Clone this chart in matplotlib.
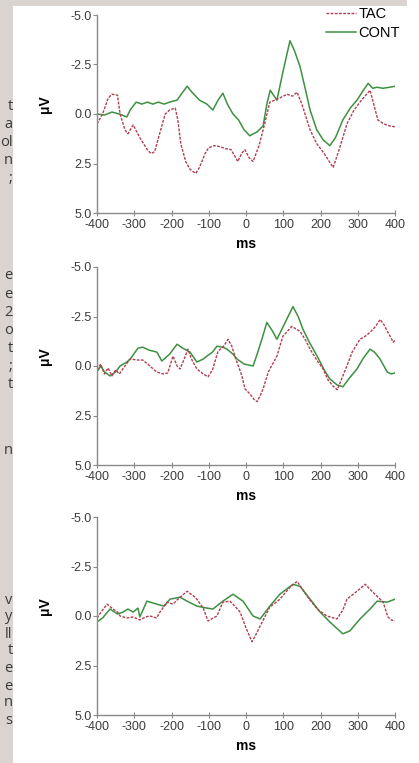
import matplotlib
matplotlib.use("Agg")
import matplotlib.pyplot as plt
from matplotlib.patches import Rectangle
from matplotlib.lines import Line2D

plt.rcParams['axes.unicode_minus'] = False

# ---- data (ms, uV) ----
p1_tac_t = [-400, -385, -370, -360, -345, -338, -325, -317, -303, -285, -265, -255, -245, -232, -217,
            -205, -190, -183, -175, -162, -150, -135, -125, -110, -100, -85, -70, -55, -40, -22, -12,
            -3, 8, 19, 35, 46, 64, 90, 110, 125, 137, 150, 172, 190, 210, 234, 250, 271, 290, 310,
            333, 354, 370, 385, 400]
p1_tac_v = [0.5, 0.0, -0.8, -1.0, -0.95, 0.0, 0.8, 1.0, 0.55, 1.2, 1.8, 2.0, 1.9, 1.0, 0.0,
            -0.2, -0.3, 0.3, 1.5, 2.4, 2.8, 3.0, 2.7, 2.0, 1.7, 1.6, 1.65, 1.75, 1.8, 2.4, 2.0,
            1.8, 2.2, 2.4, 1.6, 0.8, -0.6, -0.8, -1.0, -0.9, -1.1, -0.5, 0.8, 1.5, 2.0, 2.7, 1.8,
            0.5, -0.2, -0.7, -1.2, 0.3, 0.5, 0.6, 0.65]
p1_cont_t = [-400, -380, -360, -340, -320, -311, -295, -280, -265, -250, -235, -220, -205, -185, -170,
             -158, -145, -125, -105, -89, -75, -62, -50, -35, -20, -5, 10, 30, 46, 56, 65, 83, 100,
             118, 130, 145, 160, 172, 190, 207, 225, 240, 260, 280, 298, 315, 328, 340, 352, 368,
             385, 400]
p1_cont_v = [0.0, 0.05, -0.1, 0.0, 0.15, -0.2, -0.6, -0.5, -0.6, -0.5, -0.6, -0.5, -0.6, -0.7, -1.1,
             -1.4, -1.1, -0.7, -0.5, -0.2, -0.7, -1.05, -0.5, 0.0, 0.3, 0.8, 1.1, 0.9, 0.6, -0.5, -1.2,
             -0.7, -2.2, -3.7, -3.2, -2.4, -1.2, -0.2, 0.8, 1.3, 1.6, 1.2, 0.3, -0.3, -0.7, -1.2,
             -1.55, -1.3, -1.35, -1.3, -1.35, -1.4]

p2_tac_t = [-400, -390, -380, -370, -360, -350, -340, -325, -311, -290, -277, -258, -240, -223, -210,
            -196, -185, -177, -165, -156, -145, -132, -115, -102, -90, -75, -60, -48, -38, -30, -11,
            -3, 10, 22, 30, 38, 46, 60, 83, 99, 123, 145, 160, 172, 190, 207, 220, 233, 245, 260,
            275, 285, 306, 320, 333, 348, 360, 370, 381, 390, 395, 400]
p2_tac_v = [0.2, -0.1, 0.4, 0.1, 0.5, 0.2, 0.4, 0.0, -0.35, -0.3, -0.3, 0.0, 0.3, 0.4, 0.35,
            -0.5, 0.0, 0.15, -0.4, -0.85, -0.3, 0.15, 0.4, 0.55, 0.2, -0.75, -1.0, -1.35, -1.0, -0.5,
            0.5, 1.15, 1.4, 1.7, 1.8, 1.5, 1.15, 0.3, -0.5, -1.5, -2.0, -1.75, -1.3, -0.85, -0.3,
            0.15, 0.7, 1.0, 1.2, 0.5, -0.2, -0.7, -1.35, -1.5, -1.7, -2.0, -2.35, -2.1, -1.7, -1.4,
            -1.2, -1.3]
p2_cont_t = [-400, -390, -380, -365, -350, -338, -320, -311, -290, -277, -260, -239, -226, -205, -185,
             -170, -150, -132, -115, -105, -90, -78, -62, -51, -35, -24, -5, 19, 30, 45, 56, 70, 83,
             100, 126, 140, 153, 170, 191, 210, 225, 244, 260, 278, 298, 315, 333, 345, 360, 379,
             390, 400]
p2_cont_v = [0.3, 0.0, 0.3, 0.5, 0.3, 0.0, -0.2, -0.35, -0.9, -0.95, -0.8, -0.7, -0.25, -0.6, -1.1,
             -0.9, -0.7, -0.2, -0.35, -0.5, -0.7, -1.0, -0.95, -0.85, -0.6, -0.35, -0.1, 0.0, -0.6,
             -1.5, -2.2, -1.8, -1.35, -2.0, -3.0, -2.5, -1.85, -1.2, -0.5, 0.2, 0.65, 0.95, 1.05,
             0.6, 0.15, -0.4, -0.85, -0.7, -0.35, 0.3, 0.4, 0.35]

p3_tac_t = [-400, -385, -373, -360, -345, -338, -320, -303, -285, -270, -258, -240, -231, -212, -196,
            -180, -158, -140, -132, -115, -102, -78, -62, -43, -30, -16, 0, 16, 25, 38, 64, 91, 118,
            137, 150, 164, 191, 217, 244, 260, 271, 298, 320, 341, 368, 381, 390, 400]
p3_tac_v = [0.1, -0.3, -0.6, -0.4, -0.2, 0.0, 0.1, 0.05, 0.2, 0.05, 0.0, 0.1, -0.2, -0.7, -0.6,
            -0.9, -1.25, -1.0, -0.85, -0.4, 0.25, 0.0, -0.7, -0.75, -0.5, -0.2, 0.6, 1.3, 1.0, 0.5,
            -0.45, -0.85, -1.45, -1.75, -1.4, -1.0, -0.35, 0.0, 0.15, -0.3, -0.85, -1.25, -1.6,
            -1.2, -0.7, 0.05, 0.2, 0.25]
p3_cont_t = [-400, -385, -365, -345, -330, -317, -303, -290, -285, -266, -240, -220, -204, -177, -158,
             -132, -105, -89, -62, -35, -8, 19, 38, 64, 91, 126, 145, 172, 199, 225, 260, 279, 306,
             333, 352, 379, 400]
p3_cont_v = [0.3, 0.1, -0.35, -0.1, -0.2, -0.35, -0.2, -0.4, 0.05, -0.75, -0.6, -0.5, -0.85, -0.95,
             -0.75, -0.5, -0.4, -0.35, -0.75, -1.1, -0.75, 0.0, 0.15, -0.5, -1.1, -1.6, -1.5, -0.85,
             -0.2, 0.3, 0.9, 0.75, 0.15, -0.35, -0.75, -0.7, -0.85]

panels = [(p1_tac_t, p1_tac_v, p1_cont_t, p1_cont_v),
          (p2_tac_t, p2_tac_v, p2_cont_t, p2_cont_v),
          (p3_tac_t, p3_tac_v, p3_cont_t, p3_cont_v)]

x_ticks = [-400, -300, -200, -100, 0, 100, 200, 300, 400]
y_ticks = [-5.0, -2.5, 0.0, 2.5, 5.0]

# cut-off words of the page text on the left margin
margin_words = [(107, "t"), (125, "a"), (143, "ol"), (161, "n"), (179, ";"),
                (276, "e"), (294, "e"), (312, "2"), (330, "o"), (349, "t"), (366, ";"), (385, "t"),
                (450, "n"),
                (600, "v"), (617, "y"), (634, "ll"), (651, "t"), (668, "e"), (686, "e"), (703, "n"), (721, "s")]

TAC_COL = '#b23d50'
CONT_COL = '#3d9140'
AX_COL = '#8a8a8a'
FAM = ['Liberation Sans', 'DejaVu Sans']

W, H = 419, 763
fig = plt.figure(figsize=(W / 100, H / 100), dpi=100, facecolor='#dad3d0')
fig.patches.append(Rectangle((13 / W, 0), 1 - 13 / W, 1 - 6 / H, transform=fig.transFigure,
                             facecolor='white', edgecolor='none', zorder=-5))
fig.patches.append(Rectangle((407 / W, 1 - 6 / H), 12 / W, 6 / H, transform=fig.transFigure,
                             facecolor='white', edgecolor='none', zorder=-5))

for ypx, w in margin_words:
    fig.text(12.5 / W, 1 - ypx / H, w, ha='right', va='center', fontsize=10.5,
             family=['Open Sans', 'DejaVu Sans'], color='#3a3a3a')

tops = [15, 267, 517]
for i, (tt, tv, ct, cv) in enumerate(panels):
    top = tops[i]
    ax = fig.add_axes([97 / W, 1 - (top + 198) / H, 298 / W, 198 / H])
    ax.set_facecolor('none')
    ax.plot(ct, cv, color=CONT_COL, lw=1.1, label='CONT')
    ax.plot(tt, tv, color=TAC_COL, lw=1.0, ls=(0, (2, 1)), label='TAC')
    ax.set_xlim(-400, 400)
    ax.set_ylim(5, -5)
    for s in ['top', 'right']:
        ax.spines[s].set_visible(False)
    for s in ['left', 'bottom']:
        ax.spines[s].set_color(AX_COL)
        ax.spines[s].set_linewidth(1.0)
    ax.set_xticks(x_ticks)
    ax.set_xticklabels([str(v) for v in x_ticks])
    ax.set_yticks(y_ticks)
    ax.set_yticklabels(['%.1f' % v for v in y_ticks])
    ax.tick_params(axis='y', direction='out', length=3, color=AX_COL, labelsize=9,
                   labelcolor='#3c3c3c', pad=1)
    ax.tick_params(axis='x', direction='inout', length=5, color=AX_COL, labelsize=9,
                   labelcolor='#3c3c3c', pad=2)
    for lab in ax.get_xticklabels() + ax.get_yticklabels():
        lab.set_family(FAM)
    ax.set_xlabel('ms', fontsize=10, fontweight='bold', family=FAM, labelpad=4)
    ax.set_ylabel('\u03bcV', fontsize=10, fontweight='bold', family=FAM)
    ax.yaxis.set_label_coords(-0.15, 0.55)

handles = [Line2D([], [], color=TAC_COL, lw=1.0, ls=(0, (2, 1))),
           Line2D([], [], color=CONT_COL, lw=1.1)]
fig.legend(handles, ['TAC', 'CONT'], loc='upper right', bbox_to_anchor=(400 / W, 1 - 7 / H),
           frameon=False, borderpad=0, borderaxespad=0, handlelength=2.1, handletextpad=0.15,
           labelspacing=0.35, prop={'family': FAM, 'size': 10.5})

fig.savefig('out.png', dpi=100, facecolor=fig.get_facecolor())
